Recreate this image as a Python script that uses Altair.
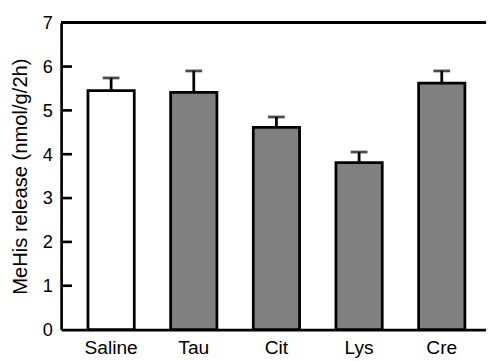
import altair as alt
import pandas as pd

groups = ["Saline", "Tau", "Cit", "Lys", "Cre"]
means = [5.45, 5.41, 4.61, 3.81, 5.62]
upper = [5.74, 5.90, 4.85, 4.05, 5.90]
fills = ["#ffffff", "#808080", "#808080", "#808080", "#808080"]
y_ticks = [0, 1, 2, 3, 4, 5, 6, 7]

df = pd.DataFrame({"group": groups, "mean": means, "upper": upper, "fill": fills})
ticks_df = pd.DataFrame({"t": y_ticks[1:-1]})

FONT = "Liberation Sans"
W, H = 432, 312

xs = alt.X("group:N", sort=groups,
           scale=alt.Scale(paddingInner=0.44, paddingOuter=0.29, align=0.56),
           axis=alt.Axis(title=None, labelAngle=0, labelFont=FONT, labelFontSize=19.5,
                         labelColor="black", tickSize=0, labelPadding=9,
                         domainColor="black", domainWidth=2.7))
ys = alt.Y("mean:Q", scale=alt.Scale(domain=[0, 7], nice=False, zero=True),
           axis=alt.Axis(title="MeHis release (nmol/g/2h)", values=y_ticks, grid=False,
                         tickSize=0, labelPadding=9, labelFont=FONT, labelFontSize=18.5,
                         labelColor="black", titleFont=FONT, titleFontSize=20.5,
                         titleFontWeight="normal", titleColor="black", titlePadding=12,
                         domainColor="black", domainWidth=2.7))

base = alt.Chart(df)

bars = base.mark_bar(stroke="black", strokeWidth=2.8).encode(
    x=xs, y=ys, fill=alt.Fill("fill:N", scale=None))

stems = base.mark_rule(color="black", strokeWidth=2.8).encode(
    x=alt.X("group:N", sort=groups), y=alt.Y("mean:Q"), y2="upper:Q")

caps = base.mark_tick(color="black", thickness=2.8, size=17, orient="horizontal").encode(
    x=alt.X("group:N", sort=groups), y=alt.Y("upper:Q"))

inner_ticks = alt.Chart(ticks_df).mark_rule(color="black", strokeWidth=2.7).encode(
    y=alt.Y("t:Q"), x=alt.value(0), x2=alt.value(11))

top_line = alt.Chart(ticks_df).mark_rule(color="black", strokeWidth=2.7).encode(
    y=alt.datum(7), x=alt.value(0), x2=alt.value(W + 10))

chart = alt.layer(bars, stems, caps, inner_ticks, top_line).properties(
    width=W, height=H,
    autosize=alt.AutoSizeParams(type="none"),
    padding={"left": 54, "top": 12, "right": 0, "bottom": 29},
).configure_view(stroke=None).configure(background="white")

chart.save("out.html", embed_options={"renderer": "svg", "actions": False})
